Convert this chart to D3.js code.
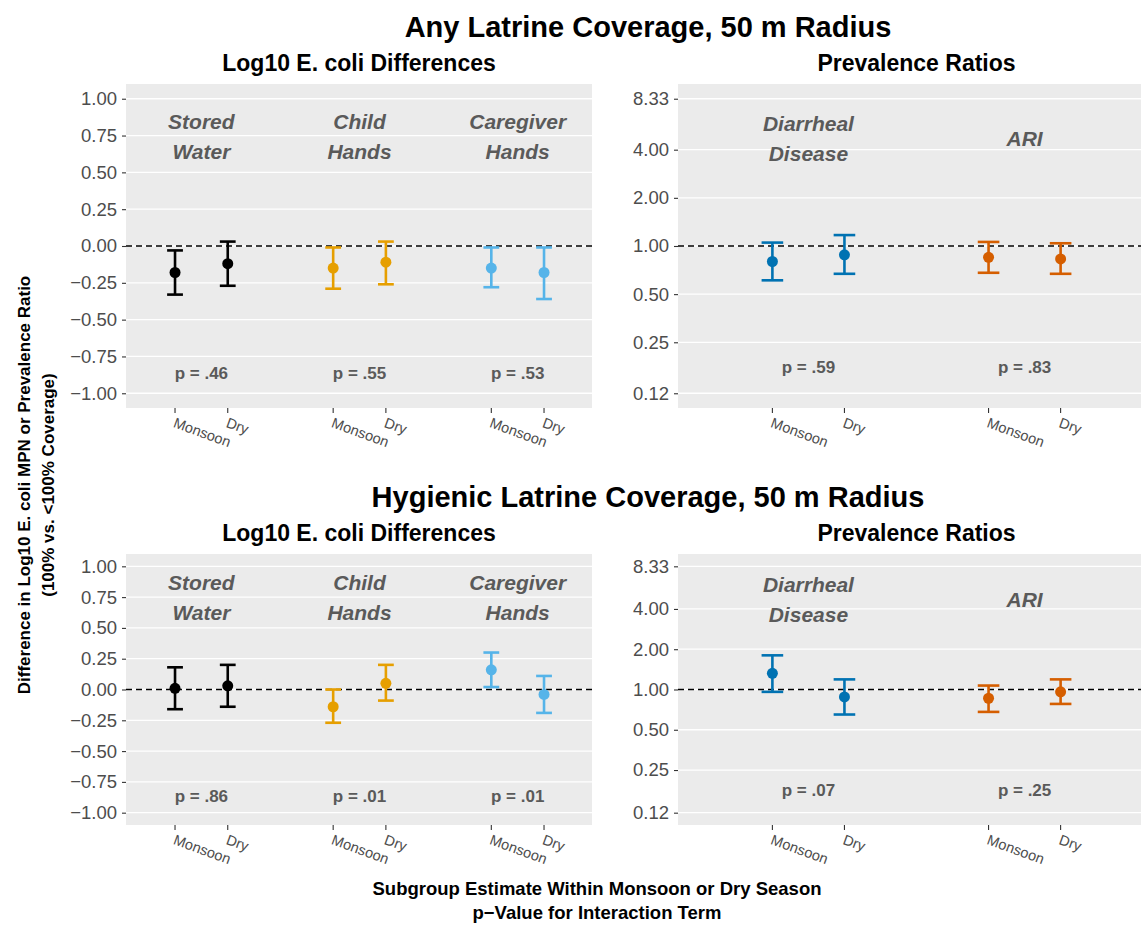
<!DOCTYPE html>
<html>
<head>
<meta charset="utf-8">
<script src="https://cdn.jsdelivr.net/npm/d3@7"></script>
<style>
  body { margin: 0; background: #fff; }
  text { font-family: "Liberation Sans", Arial, sans-serif; }
</style>
</head>
<body>
<svg id="chart" width="1141" height="926"></svg>
<script>
// categories
var seasons = ["Monsoon", "Dry"];
var ecoliGroups = [["Stored", "Water"], ["Child", "Hands"], ["Caregiver", "Hands"]];
var ecoliColors = ["#000000", "#E69F00", "#56B4E9"];
var diseaseGroups = [["Diarrheal", "Disease"], ["ARI"]];
var diseaseColors = ["#0072B2", "#D55E00"];

// y ticks
var ecoliTicks = [1.00, 0.75, 0.50, 0.25, 0.00, -0.25, -0.50, -0.75, -1.00];
var prTicks = [8.33, 4.00, 2.00, 1.00, 0.50, 0.25, 0.12];

// any latrine coverage: log10 E. coli differences (Monsoon, Dry per group)
var anyEcoliEst = [-0.18, -0.12, -0.15, -0.11, -0.15, -0.18];
var anyEcoliLo  = [-0.33, -0.27, -0.29, -0.26, -0.28, -0.36];
var anyEcoliHi  = [-0.03, 0.03, -0.01, 0.03, -0.01, -0.01];
var anyEcoliP   = [".46", ".55", ".53"];

// any latrine coverage: prevalence ratios
var anyPrEst = [0.80, 0.88, 0.85, 0.83];
var anyPrLo  = [0.61, 0.67, 0.68, 0.67];
var anyPrHi  = [1.05, 1.17, 1.06, 1.04];
var anyPrP   = [".59", ".83"];

// hygienic latrine coverage: log10 E. coli differences
var hygEcoliEst = [0.01, 0.03, -0.14, 0.05, 0.16, -0.04];
var hygEcoliLo  = [-0.16, -0.14, -0.27, -0.09, 0.02, -0.19];
var hygEcoliHi  = [0.18, 0.20, 0.00, 0.20, 0.30, 0.11];
var hygEcoliP   = [".86", ".01", ".01"];

// hygienic latrine coverage: prevalence ratios
var hygPrEst = [1.32, 0.88, 0.86, 0.96];
var hygPrLo  = [0.96, 0.65, 0.68, 0.78];
var hygPrHi  = [1.80, 1.19, 1.07, 1.19];
var hygPrP   = [".07", ".25"];

var svg = d3.select("#chart");
var gray = "#4D4D4D", labelGray = "#5A5A5A";

function panel(opt) {
    var g = svg.append("g");
    var x = d3.scaleLinear().domain(opt.xDomain).range([opt.x0, opt.x1]);
    var y;
    if (opt.log) {
        var lo = Math.log(0.12), hi = Math.log(8.33), sp = hi - lo;
        y = d3.scaleLog().domain([Math.exp(lo - 0.05 * sp), Math.exp(hi + 0.05 * sp)]).range([opt.y1, opt.y0]);
    } else {
        y = d3.scaleLinear().domain([-1.1, 1.1]).range([opt.y1, opt.y0]);
    }

    g.append("rect")
        .attr("x", opt.x0).attr("y", opt.y0)
        .attr("width", opt.x1 - opt.x0).attr("height", opt.y1 - opt.y0)
        .attr("fill", "#EBEBEB");

    g.selectAll(".grid").data(opt.ticks).enter()
        .append("line")
        .attr("x1", opt.x0).attr("x2", opt.x1)
        .attr("y1", function (d) { return y(d); })
        .attr("y2", function (d) { return y(d); })
        .attr("stroke", "#fff").attr("stroke-width", 1.3);

    // y axis
    var yAxis = d3.axisLeft(y).tickValues(opt.ticks).tickSize(4).tickPadding(5)
        .tickFormat(function (d) { return d.toFixed(2).replace("-", "\u2212"); });
    var ya = g.append("g").attr("transform", "translate(" + opt.x0 + ",0)").call(yAxis);
    ya.select(".domain").remove();
    ya.selectAll("line").attr("stroke", "#333").attr("stroke-width", 1.1);
    ya.selectAll("text").attr("fill", gray).style("font-size", "18.5px");

    // x ticks
    var n = opt.est.length;
    var pos = d3.range(n).map(function (i) { return Math.floor(i / 2) * 3 + (i % 2) + 1; });
    g.selectAll(".xt").data(pos).enter().append("line")
        .attr("x1", function (d) { return x(d); }).attr("x2", function (d) { return x(d); })
        .attr("y1", opt.y1).attr("y2", opt.y1 + 5)
        .attr("stroke", "#333").attr("stroke-width", 1.1);
    g.selectAll(".xl").data(pos).enter().append("text")
        .attr("transform", function (d) { return "translate(" + (x(d) + 1) + "," + (opt.y1 + 9) + ") rotate(20)"; })
        .attr("dominant-baseline", "hanging")
        .attr("fill", gray).style("font-size", "14.5px")
        .text(function (d, i) { return seasons[i % 2]; });

    // reference line
    g.append("line")
        .attr("x1", opt.x0).attr("x2", opt.x1)
        .attr("y1", y(opt.log ? 1 : 0)).attr("y2", y(opt.log ? 1 : 0))
        .attr("stroke", "#000").attr("stroke-width", 1.5).attr("stroke-dasharray", "6,4");

    // error bars
    var cap = 0.15;
    var bars = g.selectAll(".bar").data(pos).enter().append("g")
        .attr("stroke", function (d, i) { return opt.colors[Math.floor(i / 2)]; })
        .attr("stroke-width", 2.6).attr("fill", "none");
    bars.append("line")
        .attr("x1", function (d) { return x(d); }).attr("x2", function (d) { return x(d); })
        .attr("y1", function (d, i) { return y(opt.lo[i]); })
        .attr("y2", function (d, i) { return y(opt.hi[i]); });
    bars.append("line")
        .attr("x1", function (d) { return x(d - cap); }).attr("x2", function (d) { return x(d + cap); })
        .attr("y1", function (d, i) { return y(opt.lo[i]); })
        .attr("y2", function (d, i) { return y(opt.lo[i]); });
    bars.append("line")
        .attr("x1", function (d) { return x(d - cap); }).attr("x2", function (d) { return x(d + cap); })
        .attr("y1", function (d, i) { return y(opt.hi[i]); })
        .attr("y2", function (d, i) { return y(opt.hi[i]); });
    g.selectAll(".pt").data(pos).enter().append("circle")
        .attr("cx", function (d) { return x(d); })
        .attr("cy", function (d, i) { return y(opt.est[i]); })
        .attr("r", 5.5)
        .attr("fill", function (d, i) { return opt.colors[Math.floor(i / 2)]; });

    // group labels
    opt.groups.forEach(function (lines, k) {
        var cx = x(k * 3 + 1.5), cy = y(opt.labelY);
        var t = g.append("text")
            .attr("x", cx).attr("y", cy)
            .attr("text-anchor", "middle")
            .attr("fill", labelGray)
            .style("font-size", "21px").style("font-weight", "bold").style("font-style", "italic");
        lines.forEach(function (s, j) {
            t.append("tspan")
                .attr("x", cx)
                .attr("y", cy + (j - (lines.length - 1) / 2) * 30)
                .attr("dy", "0.35em")
                .text(s);
        });
        g.append("text")
            .attr("x", cx).attr("y", y(opt.pY)).attr("dy", "0.35em")
            .attr("text-anchor", "middle")
            .attr("fill", labelGray)
            .style("font-size", "17px").style("font-weight", "bold")
            .text("p = " + opt.p[k]);
    });

    // subtitle
    svg.append("text")
        .attr("x", (opt.x0 + opt.x1) / 2).attr("y", opt.y0 - 21).attr("dy", "0.35em")
        .attr("text-anchor", "middle")
        .style("font-size", "23px").style("font-weight", "bold")
        .text(opt.subtitle);
}

var rows = [
    { y0: 84, y1: 408, title: "Any Latrine Coverage, 50 m Radius",
      ecoli: [anyEcoliEst, anyEcoliLo, anyEcoliHi, anyEcoliP],
      pr: [anyPrEst, anyPrLo, anyPrHi, anyPrP] },
    { y0: 554, y1: 825, title: "Hygienic Latrine Coverage, 50 m Radius",
      ecoli: [hygEcoliEst, hygEcoliLo, hygEcoliHi, hygEcoliP],
      pr: [hygPrEst, hygPrLo, hygPrHi, hygPrP] }
];

rows.forEach(function (r) {
    svg.append("text")
        .attr("x", 648).attr("y", r.y0 - 57).attr("dy", "0.35em")
        .attr("text-anchor", "middle")
        .style("font-size", "29px").style("font-weight", "bold")
        .text(r.title);
    panel({ x0: 126, x1: 592, y0: r.y0, y1: r.y1, xDomain: [0.07, 8.91], log: false,
            ticks: ecoliTicks, est: r.ecoli[0], lo: r.ecoli[1], hi: r.ecoli[2], p: r.ecoli[3],
            groups: ecoliGroups, colors: ecoliColors, labelY: 0.745, pY: -0.865,
            subtitle: "Log10 E. coli Differences" });
    panel({ x0: 678, x1: 1155, y0: r.y0, y1: r.y1, xDomain: [-0.31, 6.31], log: true,
            ticks: prTicks, est: r.pr[0], lo: r.pr[1], hi: r.pr[2], p: r.pr[3],
            groups: diseaseGroups, colors: diseaseColors, labelY: 4.7, pY: 0.176,
            subtitle: "Prevalence Ratios" });
});

// axis titles
var yt = svg.append("text")
    .attr("transform", "translate(36,485) rotate(-90)")
    .attr("text-anchor", "middle")
    .style("font-size", "17px").style("font-weight", "bold");
yt.append("tspan").attr("x", 0).attr("dy", "-0.35em").text("Difference in Log10 E. coli MPN or Prevalence Ratio");
yt.append("tspan").attr("x", 0).attr("dy", "1.4em").text("(100% vs. <100% Coverage)");

svg.append("text")
    .attr("x", 597).attr("y", 889).attr("dy", "0.35em")
    .attr("text-anchor", "middle")
    .style("font-size", "18.5px").style("font-weight", "bold")
    .text("Subgroup Estimate Within Monsoon or Dry Season");
svg.append("text")
    .attr("x", 597).attr("y", 913).attr("dy", "0.35em")
    .attr("text-anchor", "middle")
    .style("font-size", "18.5px").style("font-weight", "bold")
    .text("p\u2212Value for Interaction Term");
</script>
</body>
</html>
